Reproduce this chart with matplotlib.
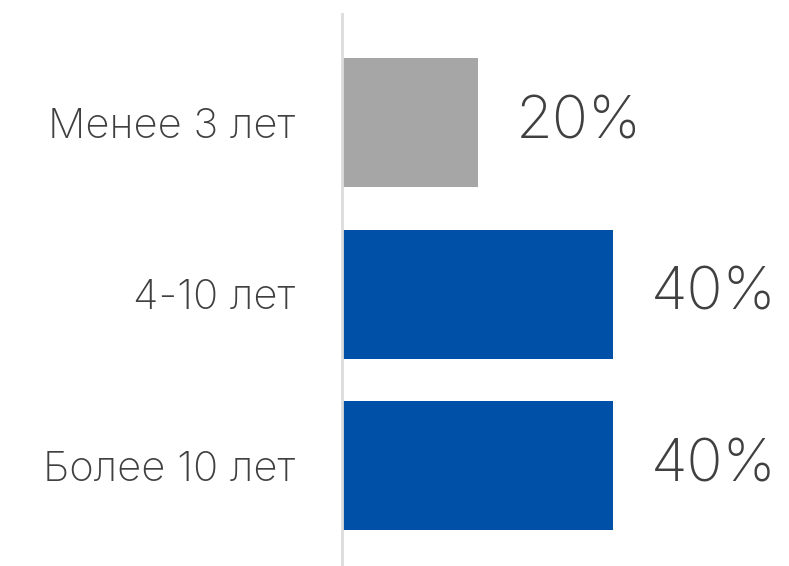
import matplotlib
matplotlib.use("Agg")
import matplotlib.pyplot as plt

categories = ["Менее 3 лет", "4-10 лет", "Более 10 лет"]
values = [20, 40, 40]
labels = ["20%", "40%", "40%"]
colors = ["#a6a6a6", "#0050a8", "#0050a8"]

plt.rcParams['font.family'] = ['Inter', 'DejaVu Sans']

W, H = 789, 566
fig = plt.figure(figsize=(W / 100, H / 100), dpi=100)
left = 342 / W
ax = fig.add_axes([left, 0, 1 - left, (H - 14) / H])

ypos = list(range(len(categories)))
ax.barh(ypos, values, height=0.752, color=colors, left=0)
ax.set_ylim(2.586, -0.633)
ax.set_xlim(0, 65.9)

for y, v, t in zip(ypos, values, labels):
    ax.annotate(t, (v, y), xytext=(38, 0), textcoords="offset pixels",
                ha="left", va="center", fontsize=43, color="#404040",
                fontweight="light")

ax.set_yticks(ypos)
ax.set_yticklabels(categories, fontsize=30, color="#404040", fontweight="light")
ax.tick_params(axis="y", length=0, pad=34)
ax.set_xticks([])
for s in ["top", "right", "bottom"]:
    ax.spines[s].set_visible(False)
ax.spines["left"].set_color("#dcdcdc")
ax.spines["left"].set_linewidth(2)

fig.savefig("out.png", dpi=100)
